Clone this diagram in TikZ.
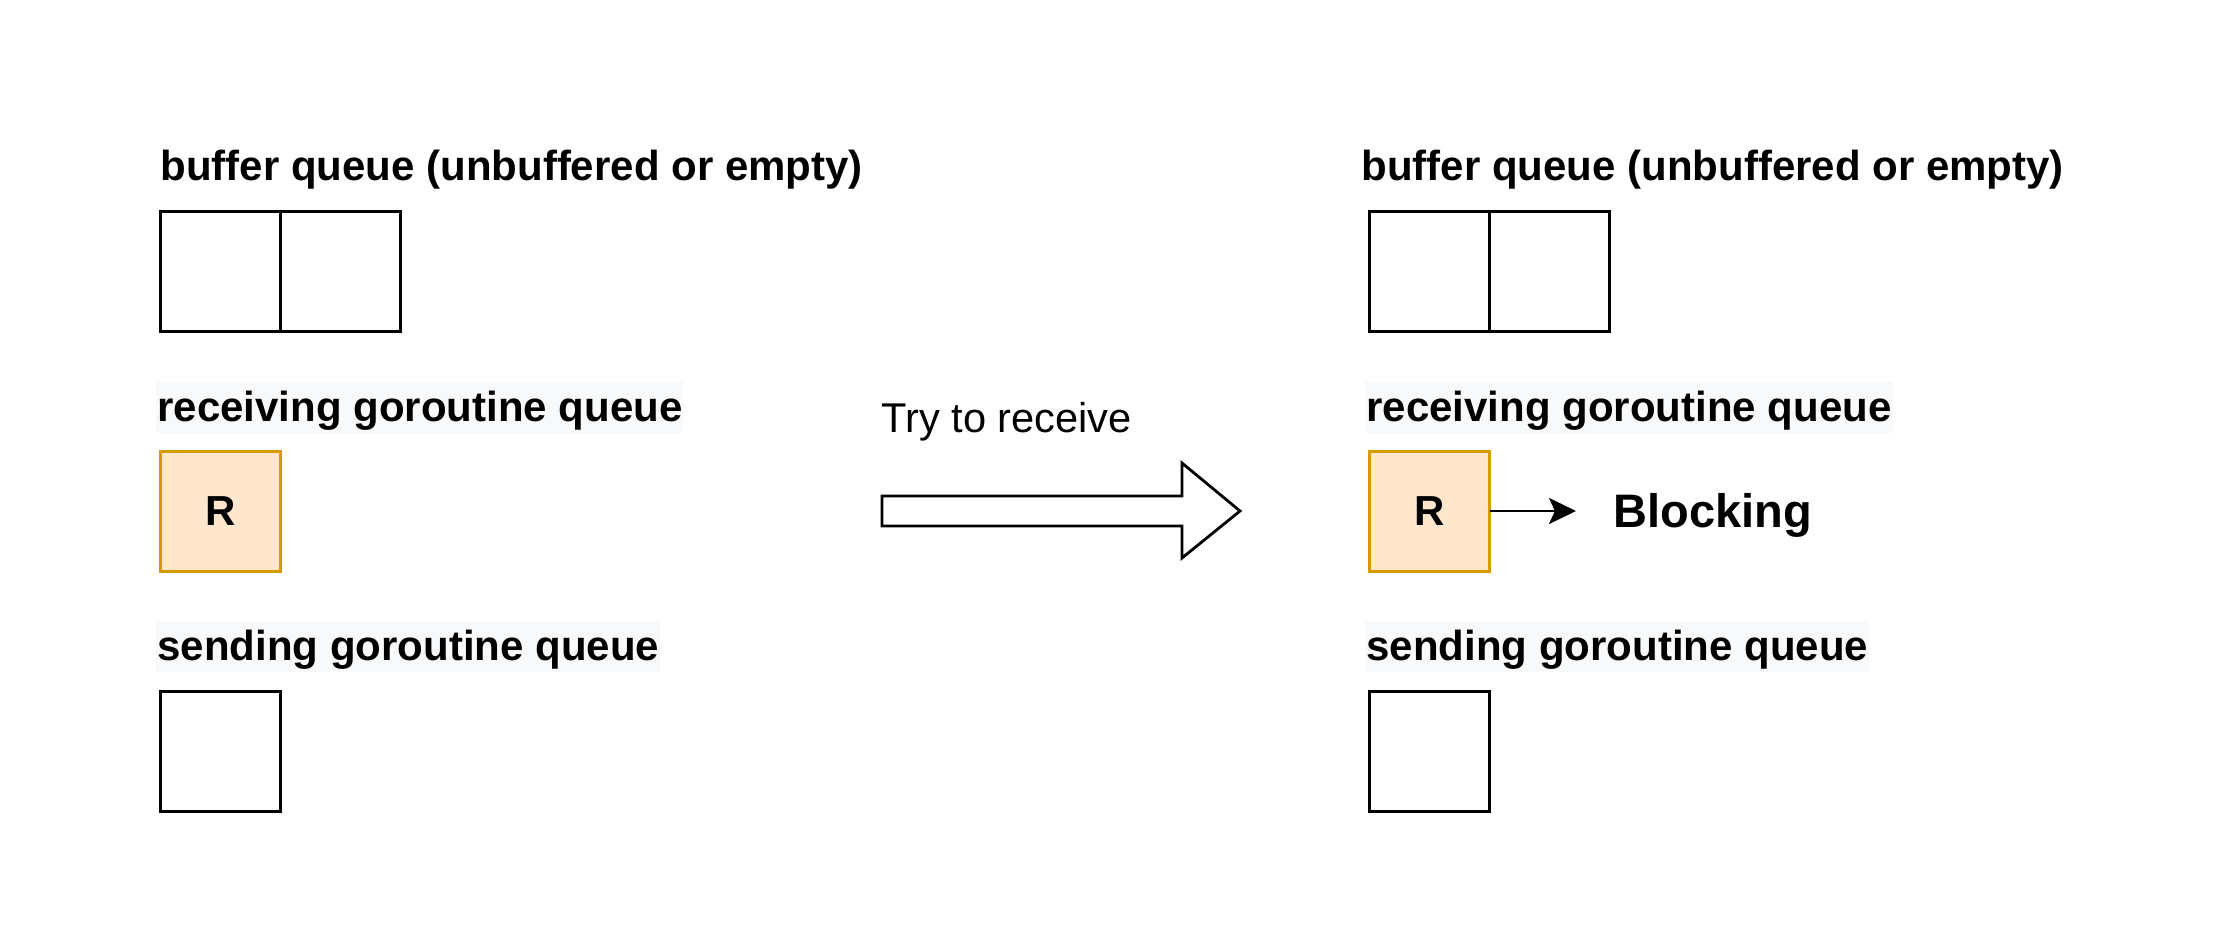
\documentclass[tikz,border=0pt]{standalone}
\usepackage{fontspec}
\setmainfont{Liberation Sans}
\usetikzlibrary{arrows.meta,positioning}
\definecolor{qback}{HTML}{F8F9FA}
\definecolor{recvfill}{HTML}{FFE6CC}
\definecolor{recvdraw}{HTML}{D79B00}

\begin{document}
\begin{tikzpicture}[
  x=0.5pt,y=-0.5pt,
  cell/.style={draw,line width=1.5pt,minimum width=60pt,minimum height=60pt,
    outer sep=0pt,inner sep=0pt},
  recv/.style={cell,draw=recvdraw,fill=recvfill,
    font=\fontsize{21}{25}\selectfont\bfseries},
  title/.style={anchor=west,inner sep=0pt,text height=18.1pt,text depth=3.4pt,
    font=\fontsize{21}{25}\selectfont\bfseries},
  qlabel/.style={anchor=west,fill=qback,inner xsep=0.5pt,inner ysep=2.25pt,
    text height=17.75pt,text depth=3.25pt,font=\fontsize{21}{25}\selectfont\bfseries},
  arr/.style={-{Stealth[length=13.5pt,width=13pt,inset=3pt]},line width=1.3pt}
]
\useasboundingbox (0,0) rectangle (2223,933);

% before
\node[title] (buf1) at (160,166) {buffer queue (unbuffered or empty)};
\node[cell] (b1a) at (220.5,271.5) {};
\node[cell,right=0pt of b1a] (b1b) {};
\node[qlabel] (rq1) at (156,407) {receiving goroutine queue};
\node[recv] (r1) at (220.5,511) {R};
\node[qlabel] (sq1) at (156,646) {sending goroutine queue};
\node[cell] (s1) at (220.5,751.5) {};

% transition
\node[anchor=base west,inner sep=0pt,font=\fontsize{20.8}{24}\selectfont]
  (try) at (881,432) {Try to receive};
\draw[line width=1.4pt,fill=white,miter limit=4]
  (882,496) -- (1182,496) -- (1182,463) -- (1240,511)
  -- (1182,558) -- (1182,526) -- (882,526) -- cycle;

% after
\node[title] (buf2) at (1361,166) {buffer queue (unbuffered or empty)};
\node[cell] (b2a) at (1429.5,271.5) {};
\node[cell,right=0pt of b2a] (b2b) {};
\node[qlabel] (rq2) at (1365,407) {receiving goroutine queue};
\node[recv] (r2) at (1429.5,511) {R};
\node[qlabel] (sq2) at (1365,646) {sending goroutine queue};
\node[cell] (s2) at (1429.5,751.5) {};

\node[anchor=base west,inner sep=0pt,font=\fontsize{23.5}{28}\selectfont\bfseries]
  (blk) at (1613,527) {Blocking};
\draw[arr,shorten >=18.5pt] (r2.east) -- (r2.east -| blk.west);
\end{tikzpicture}
\end{document}
